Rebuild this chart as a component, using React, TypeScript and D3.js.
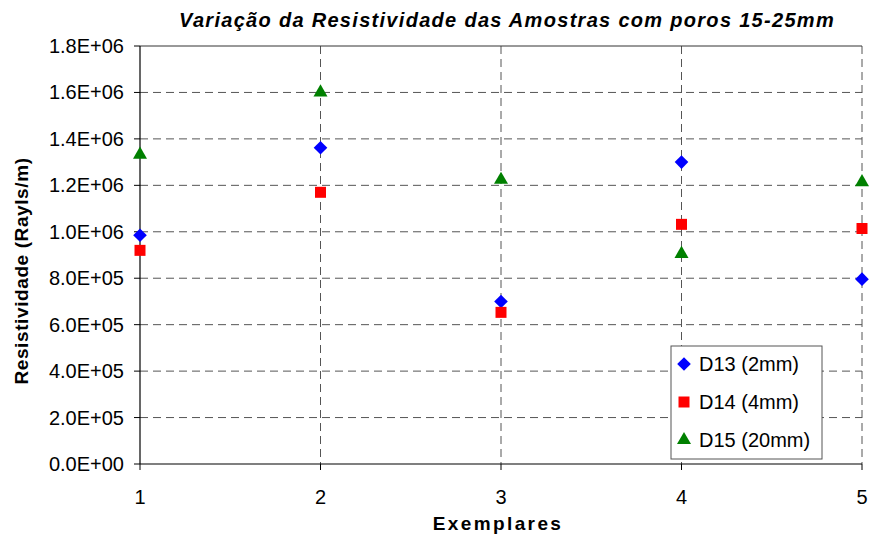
import React from "react";
import * as d3 from "d3";

const exemplares = [1, 2, 3, 4, 5];
const d13 = [0.985e6, 1.362e6, 0.70e6, 1.30e6, 0.796e6];
const d14 = [0.92e6, 1.17e6, 0.653e6, 1.032e6, 1.014e6];
const d15 = [1.332e6, 1.60e6, 1.224e6, 0.905e6, 1.214e6];
const yTicks = [0, 2e5, 4e5, 6e5, 8e5, 1e6, 1.2e6, 1.4e6, 1.6e6, 1.8e6];
const seriesNames = ["D13 (2mm)", "D14 (4mm)", "D15 (20mm)"];

const W = 870;
const H = 536;
const left = 140;
const right = 862;
const top = 46;
const bottom = 464;

const x = d3.scaleLinear().domain([1, 5]).range([left, right]);
const y = d3.scaleLinear().domain([0, 1.8e6]).range([bottom, top]);

const fmt = (v: number) => {
  const e = v === 0 ? 0 : Math.floor(Math.log10(v));
  const m = v === 0 ? 0 : v / Math.pow(10, e);
  return `${m.toFixed(1)}E+${String(e).padStart(2, "0")}`;
};

const font = "'Liberation Sans', Arial, sans-serif";

// square-ish diamond, as wide as it is tall
const diamondPath = (r: number) => {
  const p = d3.path();
  p.moveTo(0, -r);
  p.lineTo(r, 0);
  p.lineTo(0, r);
  p.lineTo(-r, 0);
  p.closePath();
  return p.toString();
};
const diamond = diamondPath(6.8);
const square = d3.symbol().type(d3.symbolSquare).size(121)()!;
const triangle = d3.symbol().type(d3.symbolTriangle).size(85)()!;

const series = [
  { name: seriesNames[0], values: d13, path: diamond, color: "#0000ff" },
  { name: seriesNames[1], values: d14, path: square, color: "#ff0000" },
  { name: seriesNames[2], values: d15, path: triangle, color: "#008000" },
];

export default function App() {
  return (
    <svg
      width={W}
      height={H}
      style={{ position: "absolute", left: 0, top: 0, background: "#fff" }}
      fontFamily={font}
    >
      <text
        x={507}
        y={27}
        textAnchor="middle"
        fontSize={20}
        fontWeight="bold"
        fontStyle="italic"
        letterSpacing={1.3}
      >
        Variação da Resistividade das Amostras com poros 15-25mm
      </text>

      {/* horizontal grid */}
      {yTicks.slice(1, -1).map((t) => (
        <line
          key={"h" + t}
          x1={left}
          x2={right}
          y1={y(t)}
          y2={y(t)}
          stroke="#555"
          strokeWidth={1}
          strokeDasharray="8,5"
        />
      ))}
      {/* vertical grid */}
      {exemplares.slice(1).map((e) => (
        <line
          key={"v" + e}
          x1={x(e)}
          x2={x(e)}
          y1={top}
          y2={bottom}
          stroke="#555"
          strokeWidth={1}
          strokeDasharray="8,5"
        />
      ))}
      <line x1={left} x2={right} y1={top} y2={top} stroke="#333" strokeWidth={1} />

      {/* axes */}
      <line x1={left} x2={left} y1={top} y2={bottom} stroke="#000" strokeWidth={1.2} />
      <line x1={left} x2={right} y1={bottom} y2={bottom} stroke="#000" strokeWidth={1.2} />
      {yTicks.map((t) => (
        <g key={"yt" + t}>
          <line x1={left - 6} x2={left} y1={y(t)} y2={y(t)} stroke="#000" />
          <text x={124} y={y(t) + 7} textAnchor="end" fontSize={20}>
            {fmt(t)}
          </text>
        </g>
      ))}
      {exemplares.map((e) => (
        <g key={"xt" + e}>
          <line x1={x(e)} x2={x(e)} y1={bottom} y2={bottom + 6} stroke="#000" />
          <text x={x(e)} y={504} textAnchor="middle" fontSize={20}>
            {e}
          </text>
        </g>
      ))}

      <text
        x={498}
        y={530}
        textAnchor="middle"
        fontSize={19}
        fontWeight="bold"
        letterSpacing={2.4}
      >
        Exemplares
      </text>
      <text
        transform={`translate(28, ${(top + bottom) / 2 + 16}) rotate(-90)`}
        textAnchor="middle"
        fontSize={19}
        fontWeight="bold"
        letterSpacing={0.6}
      >
        Resistividade (Rayls/m)
      </text>

      {/* points */}
      {series.map((s) =>
        s.values.map((v, i) => (
          <path
            key={s.name + i}
            d={s.path}
            transform={`translate(${x(exemplares[i])}, ${y(v)})`}
            fill={s.color}
          />
        ))
      )}

      {/* legend */}
      <rect x={671} y={346} width={151} height={113} fill="#fff" stroke="#555" strokeWidth={1} />
      {series.map((s, i) => (
        <g key={"lg" + s.name} transform={`translate(0, ${364 + i * 38})`}>
          <path d={s.path} transform="translate(684, 0)" fill={s.color} />
          <text x={699} y={7} fontSize={20}>
            {s.name}
          </text>
        </g>
      ))}
    </svg>
  );
}
